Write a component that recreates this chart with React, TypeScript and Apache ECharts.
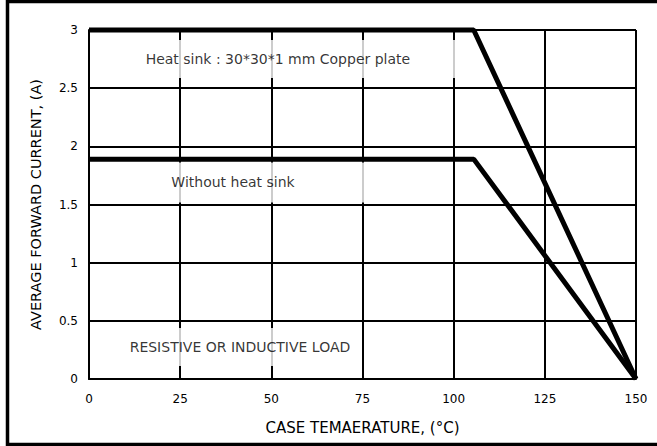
import React, { useEffect, useRef } from "react";
import * as echarts from "echarts";

const xTicks = [0, 25, 50, 75, 100, 125, 150];
const yTicks = [0, 0.5, 1, 1.5, 2, 2.5, 3];
const withHeatSink: [number, number][] = [[0, 3], [105.5, 3], [150, 0]];
const withoutHeatSink: [number, number][] = [[0, 1.89], [105.5, 1.89], [150, 0]];
const noteTexts = ["Heat sink : 30*30*1 mm Copper plate", "Without heat sink", "RESISTIVE OR INDUCTIVE LOAD"];
const noteX = [51.8, 39.5, 41.4];
const noteY = [2.75, 1.69, 0.275];
const notePad = [[12, 52], [13, 72], [12, 8]];
const noteSize = [14, 14, 14];

const FONT = "'DejaVu Sans', sans-serif";

export default function App() {
  const ref = useRef<HTMLDivElement>(null);
  useEffect(() => {
    if (!ref.current) return;
    const chart = echarts.init(ref.current, null, { renderer: "svg" });
    chart.setOption({
      animation: false,
      backgroundColor: "#fff",
      grid: { left: 89, right: 21, top: 30, bottom: 67 },
      graphic: [
        {
          type: "rect",
          z: 100,
          shape: { x: 7.5, y: 1.5, width: 720, height: 443 },
          style: { fill: "none", stroke: "#000", lineWidth: 3.5 },
          silent: true,
        },
      ],
      xAxis: {
        type: "value",
        min: xTicks[0],
        max: xTicks[xTicks.length - 1],
        interval: 25,
        name: "CASE TEMAERATURE, (°C)",
        nameLocation: "middle",
        nameGap: 41,
        nameTextStyle: { color: "#000", fontSize: 15, fontFamily: FONT },
        axisLine: { show: true, lineStyle: { color: "#000", width: 2 } },
        axisTick: { show: false },
        axisLabel: { color: "#000", fontSize: 12, fontFamily: FONT, margin: 14 },
        splitLine: { show: true, lineStyle: { color: "#000", width: 2 } },
      },
      yAxis: {
        type: "value",
        min: yTicks[0],
        max: yTicks[yTicks.length - 1],
        interval: 0.5,
        name: "AVERAGE FORWARD CURRENT, (A)",
        nameLocation: "middle",
        nameGap: 46,
        nameTextStyle: { color: "#000", fontSize: 14.5, fontFamily: FONT },
        axisLine: { show: true, lineStyle: { color: "#000", width: 2 } },
        axisTick: { show: false },
        axisLabel: { color: "#000", fontSize: 12, fontFamily: FONT, margin: 11 },
        splitLine: { show: true, lineStyle: { color: "#000", width: 2 } },
      },
      series: [
        {
          type: "line",
          data: withHeatSink,
          symbol: "none",
          clip: false,
          z: 3,
          lineStyle: { color: "#000", width: 5 },
        },
        {
          type: "line",
          data: withoutHeatSink,
          symbol: "none",
          clip: false,
          z: 3,
          lineStyle: { color: "#000", width: 5 },
        },
        {
          type: "scatter",
          symbolSize: 0,
          z: 5,
          silent: true,
          data: noteTexts.map((t, i) => ({
            name: t,
            value: [noteX[i], noteY[i]],
            label: {
              show: true,
              position: "inside",
              formatter: t,
              color: "#000",
              fontSize: noteSize[i],
              fontFamily: FONT,
              backgroundColor: "#fff",
              padding: notePad[i],
            },
          })),
        },
      ],
    });
    return () => chart.dispose();
  }, []);
  return (
    <div
      ref={ref}
      style={{ position: "fixed", left: 0, top: 0, width: 657, height: 446, background: "#fff" }}
    />
  );
}
